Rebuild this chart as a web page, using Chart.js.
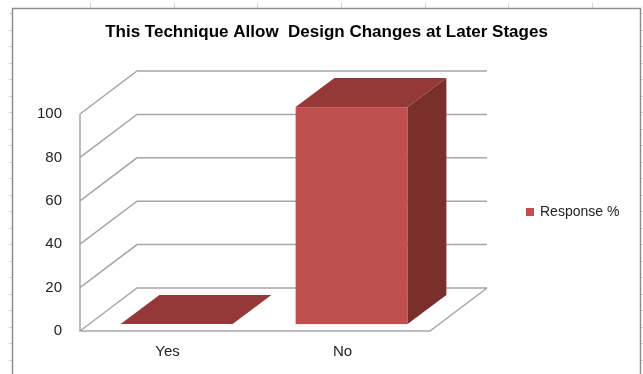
<!DOCTYPE html>
<html>
<head>
<meta charset="utf-8">
<title>Design Changes at Later Stages</title>
<script src="https://cdn.jsdelivr.net/npm/chart.js@4.4.1/dist/chart.umd.min.js"></script>
<style>
  html, body { margin: 0; padding: 0; background: #fff; }
  #wrap { width: 643px; height: 374px; }
</style>
</head>
<body>
<div id="wrap"><canvas id="responseChart" width="643" height="374"></canvas></div>
<script>
// survey answers
const categories = ['Yes', 'No'];
const responsePct = [0, 100];
const seriesName = 'Response %';
const chartTitle = 'This Technique Allow  Design Changes at Later Stages';
const yMin = 0;
const yMax = 100;
const yStep = 20;

// 3d look: how far the back wall sits from the front plane
const DEPTH_X = 57;
const DEPTH_Y = -43;
const BAR_FRONT = 0.16;   // bars start a bit behind the floor edge
const BAR_BACK = 0.84;
const wallColor = '#a6a6a6';
const barColors = { front: '#c0504d', top: '#943937', side: '#7a2f2d' };
const FONT = "'Liberation Sans', Arial, sans-serif";

// excel sheet frame + faint cell lines around it
const framePlugin = {
    id: 'sheetFrame',
    beforeDraw(chart) {
        const ctx = chart.ctx;
        const w = chart.width, h = chart.height;
        ctx.save();
        ctx.fillStyle = '#fff';
        ctx.fillRect(0, 0, w, h);
        ctx.strokeStyle = '#d4d4d4';
        ctx.lineWidth = 1;
        ctx.beginPath();
        for (let x = 90; x < w - 10; x += 83.7) {
            ctx.moveTo(Math.round(x) + 0.5, 3);
            ctx.lineTo(Math.round(x) + 0.5, 8);
        }
        for (let y = 13; y < h; y += 16.5) {
            ctx.moveTo(9, Math.round(y) + 0.5);
            ctx.lineTo(12, Math.round(y) + 0.5);
            ctx.moveTo(641, Math.round(y) + 0.5);
            ctx.lineTo(643, Math.round(y) + 0.5);
        }
        ctx.stroke();
        ctx.strokeStyle = '#8e8e8e';
        ctx.lineWidth = 1.5;
        ctx.strokeRect(12.5, 8.5, 628, h + 10);
        ctx.restore();
    }
};

function drawPoly(ctx, pts, color) {
    ctx.fillStyle = color;
    ctx.beginPath();
    ctx.moveTo(pts[0][0], pts[0][1]);
    for (let i = 1; i < pts.length; i++) ctx.lineTo(pts[i][0], pts[i][1]);
    ctx.closePath();
    ctx.fill();
}

const walls3dPlugin = {
    id: 'walls3d',
    beforeDatasetsDraw(chart) {
        const { ctx, chartArea: a, scales: { y } } = chart;
        ctx.save();
        ctx.strokeStyle = wallColor;
        ctx.lineWidth = 1.5;
        ctx.beginPath();
        y.ticks.forEach(t => {
            const py = y.getPixelForValue(t.value);
            ctx.moveTo(a.left, py);
            ctx.lineTo(a.left + DEPTH_X, py + DEPTH_Y);
            ctx.lineTo(a.right + DEPTH_X, py + DEPTH_Y);
        });
        // front edge of side wall and the floor
        ctx.moveTo(a.left, a.top);
        ctx.lineTo(a.left, a.bottom);
        ctx.lineTo(a.right, a.bottom);
        ctx.lineTo(a.right + DEPTH_X, a.bottom + DEPTH_Y);
        ctx.stroke();
        ctx.restore();
    },
    afterDatasetsDraw(chart) {
        const ctx = chart.ctx;
        const fx = BAR_FRONT * DEPTH_X, fy = BAR_FRONT * DEPTH_Y;
        const dx = (BAR_BACK - BAR_FRONT) * DEPTH_X, dy = (BAR_BACK - BAR_FRONT) * DEPTH_Y;
        ctx.save();
        chart.getDatasetMeta(0).data.forEach(bar => {
            const { x, y, base, width } = bar.getProps(['x', 'y', 'base', 'width'], true);
            const x0 = x - width / 2 + fx, x1 = x + width / 2 + fx;
            const y0 = y + fy, y1 = base + fy;
            if (y1 - y0 > 0.5) {
                ctx.fillStyle = barColors.front;
                ctx.fillRect(x0, y0, x1 - x0, y1 - y0);
                drawPoly(ctx, [[x1, y0], [x1 + dx, y0 + dy], [x1 + dx, y1 + dy], [x1, y1]], barColors.side);
            }
            drawPoly(ctx, [[x0, y0], [x1, y0], [x1 + dx, y0 + dy], [x0 + dx, y0 + dy]], barColors.top);
        });
        ctx.restore();
    },
    afterDraw(chart) {
        // legend, off to the right of the plot
        const { ctx, chartArea: a } = chart;
        const lx = a.right + 96, ly = a.top + 98;
        ctx.save();
        ctx.fillStyle = barColors.front;
        ctx.fillRect(lx, ly - 4, 8, 8);
        ctx.fillStyle = '#222';
        ctx.font = '14px ' + FONT;
        ctx.textBaseline = 'middle';
        ctx.fillText(chart.data.datasets[0].label, lx + 14, ly);
        ctx.restore();
    }
};

const ctx = document.getElementById('responseChart').getContext('2d');
new Chart(ctx, {
    type: 'bar',
    data: {
        labels: categories,
        datasets: [{
            label: seriesName,
            data: responsePct,
            backgroundColor: 'transparent',
            borderWidth: 0,
            categoryPercentage: 0.8,
            barPercentage: 0.8
        }]
    },
    options: {
        responsive: false,
        animation: false,
        devicePixelRatio: 1,
        layout: { padding: { left: 13, right: 3, top: 0, bottom: 0 } },
        plugins: {
            legend: { display: false },
            tooltip: { enabled: false },
            title: {
                display: true,
                text: chartTitle,
                color: '#000',
                font: { family: FONT, size: 17, weight: 'bold', lineHeight: 1.2 },
                padding: { top: 22, bottom: 71.6 }
            }
        },
        scales: {
            x: {
                grid: { display: false, drawTicks: false },
                border: { display: false },
                ticks: { color: '#222', font: { family: FONT, size: 15 }, padding: 12 },
                afterFit(scale) { scale.height = 43; }
            },
            y: {
                min: yMin,
                max: yMax,
                grid: { display: false, drawTicks: false },
                border: { display: false },
                ticks: { stepSize: yStep, color: '#222', font: { family: FONT, size: 15 }, padding: 18 },
                afterFit(scale) { scale.width = 67; }
            },
            // empty axis that keeps room for the legend on the right
            legendRoom: {
                type: 'linear',
                position: 'right',
                grid: { display: false, drawTicks: false },
                border: { display: false },
                ticks: { display: false },
                afterFit(scale) { scale.width = 210; }
            }
        }
    },
    plugins: [framePlugin, walls3dPlugin]
});
</script>
</body>
</html>
